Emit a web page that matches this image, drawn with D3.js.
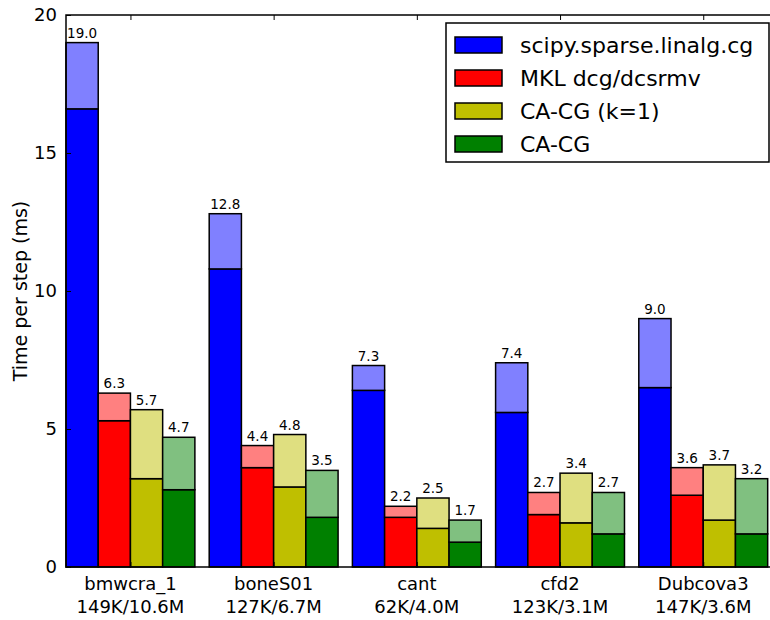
<!DOCTYPE html>
<html>
<head>
<meta charset="utf-8">
<script src="https://cdn.jsdelivr.net/npm/d3@7"></script>
<style>
  html, body { margin: 0; padding: 0; background: #fff; }
  svg { display: block; font-family: "DejaVu Sans", sans-serif; }
</style>
</head>
<body>
<svg id="chart" width="770" height="620"></svg>
<script>
// Matrices and their size (rows / nonzeros)
const matrices = ["bmwcra_1", "boneS01", "cant", "cfd2", "Dubcova3"];
const sizes = ["149K/10.6M", "127K/6.7M", "62K/4.0M", "123K/3.1M", "147K/3.6M"];

// Solvers
const solvers = ["scipy.sparse.linalg.cg", "MKL dcg/dcsrmv", "CA-CG (k=1)", "CA-CG"];
const solidColors = ["#0000ff", "#ff0000", "#bfbf00", "#008000"];
const lightColors = ["#8080ff", "#ff8080", "#dfdf80", "#80c080"];

// Time per step (ms): lower part of each bar, and full bar height
const scipyBase  = [16.6, 10.8, 6.4, 5.6, 6.5];
const scipyTotal = [19.0, 12.8, 7.3, 7.4, 9.0];
const mklBase    = [5.3, 3.6, 1.8, 1.9, 2.6];
const mklTotal   = [6.3, 4.4, 2.2, 2.7, 3.6];
const cacg1Base  = [3.2, 2.9, 1.4, 1.6, 1.7];
const cacg1Total = [5.7, 4.8, 2.5, 3.4, 3.7];
const cacgBase   = [2.8, 1.8, 0.9, 1.2, 1.2];
const cacgTotal  = [4.7, 3.5, 1.7, 2.7, 3.2];

const yTicks = [0, 5, 10, 15, 20];

const baseSeries = [scipyBase, mklBase, cacg1Base, cacgBase];
const totalSeries = [scipyTotal, mklTotal, cacg1Total, cacgTotal];

const barWidth = 0.225;   // in group units
const svg = d3.select("#chart");
const margin = { left: 66, right: 782, top: 15, bottom: 567 };

const x = d3.scaleLinear().domain([0, 5]).range([margin.left, margin.right]);
const y = d3.scaleLinear().domain([0, 20]).range([margin.bottom, margin.top]);

const plot = svg.append("g");

// Bars: solid lower part + lighter upper part
const rows = [];
matrices.forEach((m, i) => {
  solvers.forEach((s, j) => {
    rows.push({ i, j, base: baseSeries[j][i], total: totalSeries[j][i] });
  });
});

const barG = plot.selectAll("g.bar").data(rows).enter().append("g").attr("class", "bar");
barG.append("rect")
  .attr("x", d => x(d.i + d.j * barWidth))
  .attr("width", d => x(barWidth) - x(0))
  .attr("y", d => y(d.base))
  .attr("height", d => y(0) - y(d.base))
  .attr("fill", d => solidColors[d.j])
  .attr("stroke", "#000").attr("stroke-width", 1.5);
barG.append("rect")
  .attr("x", d => x(d.i + d.j * barWidth))
  .attr("width", d => x(barWidth) - x(0))
  .attr("y", d => y(d.total))
  .attr("height", d => y(d.base) - y(d.total))
  .attr("fill", d => lightColors[d.j])
  .attr("stroke", "#000").attr("stroke-width", 1.5);
barG.append("text")
  .attr("x", d => x(d.i + (d.j + 0.5) * barWidth))
  .attr("y", d => y(d.total) - 5)
  .attr("text-anchor", "middle")
  .attr("font-size", 13.5)
  .attr("fill", "#000")
  .text(d => d.total.toFixed(1));

// Axes frame
const centers = matrices.map((m, i) => i + 2 * barWidth);

const yLeft = d3.axisLeft(y).tickValues(yTicks).tickSize(-5).tickPadding(9).tickFormat(d3.format("d"));
const gy = svg.append("g").attr("transform", `translate(${margin.left},0)`).call(yLeft);
gy.select(".domain").remove();
gy.selectAll("text").attr("font-size", 18).attr("font-family", "DejaVu Sans").attr("fill", "#000");
gy.selectAll("line").attr("stroke", "#000").attr("stroke-width", 1);

const yRight = d3.axisRight(y).tickValues(yTicks).tickSize(-5).tickFormat("");
const gyr = svg.append("g").attr("transform", `translate(${margin.right},0)`).call(yRight);
gyr.select(".domain").remove();

const xBottom = d3.axisBottom(x).tickValues(centers).tickSize(-5).tickFormat("");
const gxb = svg.append("g").attr("transform", `translate(0,${margin.bottom})`).call(xBottom);
gxb.select(".domain").remove();
gxb.selectAll("line").attr("stroke", "#000");

const xTop = d3.axisTop(x).tickValues(centers).tickSize(-5).tickFormat("");
const gxt = svg.append("g").attr("transform", `translate(0,${margin.top})`).call(xTop);
gxt.select(".domain").remove();
gxt.selectAll("line").attr("stroke", "#000");

svg.append("rect")
  .attr("x", margin.left).attr("y", margin.top)
  .attr("width", margin.right - margin.left).attr("height", margin.bottom - margin.top)
  .attr("fill", "none").attr("stroke", "#000").attr("stroke-width", 1.5);

// Category labels (two lines)
const xl = svg.append("g").selectAll("text").data(matrices).enter().append("text")
  .attr("x", (d, i) => x(centers[i]))
  .attr("y", 590)
  .attr("text-anchor", "middle")
  .attr("font-size", 18)
  .attr("fill", "#000");
xl.append("tspan").attr("x", (d, i) => x(centers[i])).attr("dy", 0).text(d => d);
xl.append("tspan").attr("x", (d, i) => x(centers[i])).attr("dy", 23).text((d, i) => sizes[i]);

// Y axis title
svg.append("text")
  .attr("transform", `translate(27,${(margin.top + margin.bottom) / 2}) rotate(-90)`)
  .attr("text-anchor", "middle")
  .attr("font-size", 19)
  .attr("fill", "#000")
  .text("Time per step (ms)");

// Legend
const legend = svg.append("g");
legend.append("rect")
  .attr("x", 446).attr("y", 23).attr("width", 323).attr("height", 139)
  .attr("fill", "#fff").attr("stroke", "#000").attr("stroke-width", 1.5);
const li = legend.selectAll("g.item").data(solvers).enter().append("g")
  .attr("transform", (d, i) => `translate(455,${45 + i * 33})`);
li.append("rect")
  .attr("x", 0).attr("y", -8).attr("width", 47).attr("height", 16)
  .attr("fill", (d, i) => solidColors[i]).attr("stroke", "#000").attr("stroke-width", 1.5);
li.append("text")
  .attr("x", 65).attr("y", 8)
  .attr("font-size", 22)
  .attr("fill", "#000")
  .text(d => d);
</script>
</body>
</html>
